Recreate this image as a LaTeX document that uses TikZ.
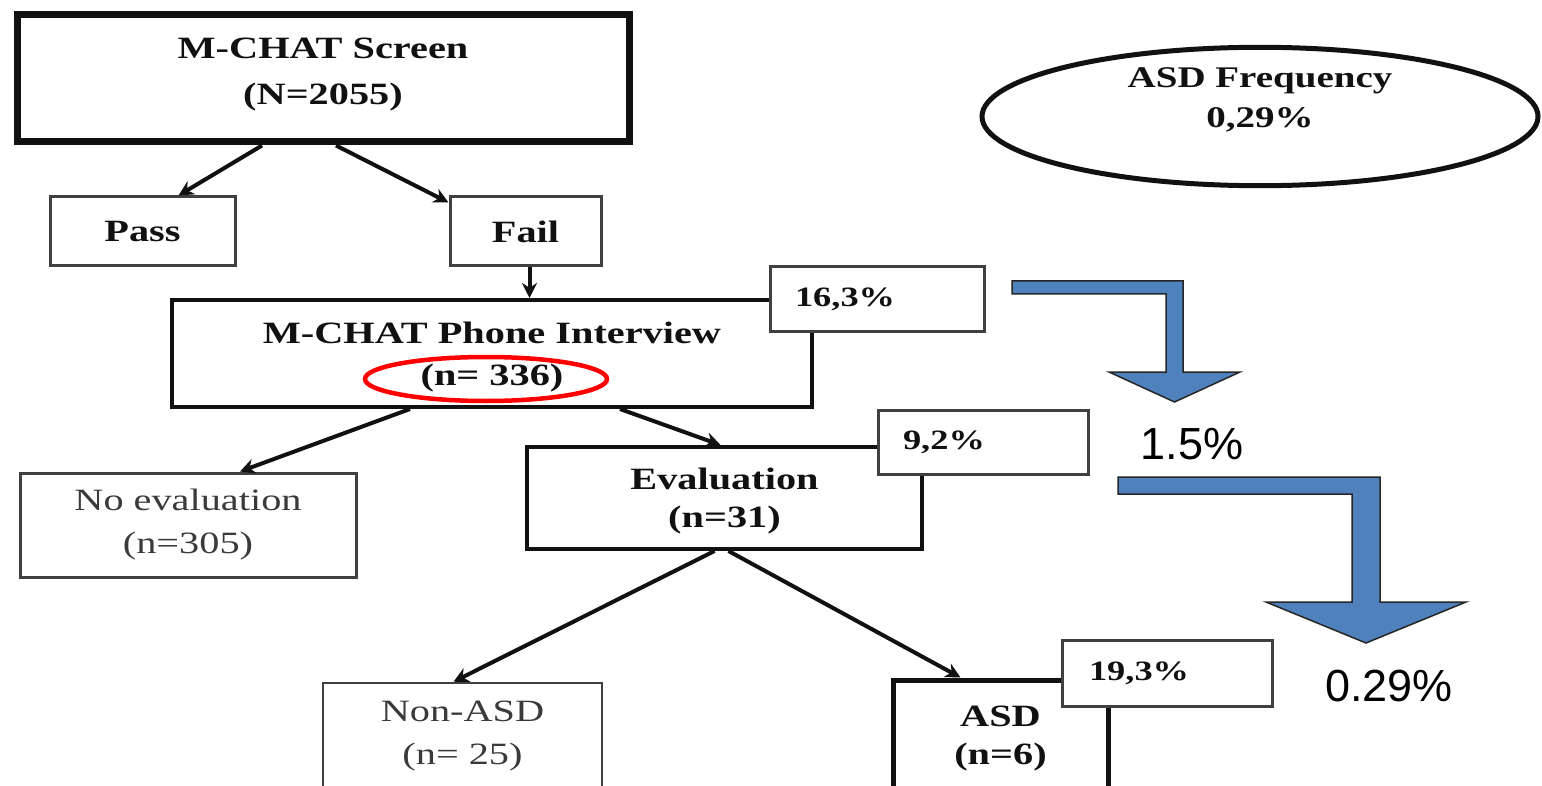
\documentclass[tikz,border=0pt]{standalone}
\usepackage{fontspec}
\setmainfont{Liberation Serif}
\newfontfamily\scanfont[FakeStretch=1.3]{Liberation Serif}
\newfontfamily\plainsans{Liberation Sans}
\usetikzlibrary{shapes.geometric,arrows.meta}
\definecolor{arrowblue}{HTML}{4F81BD}
\definecolor{ink}{HTML}{111111}
\definecolor{softink}{HTML}{3A3A3A}
\definecolor{frame}{HTML}{404040}

\begin{document}
\begin{tikzpicture}[x=1pt,y=-1pt,
  box/.style={draw=ink, fill=white, rectangle, inner sep=0pt, align=center,
    font=\scanfont\bfseries\fontsize{31}{42}\selectfont, text=ink, line width=4pt},
  thinbox/.style={box, draw=frame, line width=3pt},
  lightbox/.style={box, draw=frame, line width=3pt,
    font=\scanfont\fontsize{31}{43}\selectfont, text=softink},
  pct/.style={draw=frame, fill=white, rectangle, line width=3pt, inner xsep=25pt,
    inner ysep=0pt, align=left, font=\scanfont\bfseries\fontsize{28}{32}\selectfont, text=ink},
  link/.style={draw=ink, line width=4pt, -{Stealth[length=15pt,width=15pt]}},
  bigarrow/.style={fill=arrowblue, draw=black!85, line width=1.5pt, line join=miter},
  result/.style={font=\plainsans\fontsize{45}{50}\selectfont, text=black, inner sep=0pt}
]
\useasboundingbox (0,0) rectangle (1542,786);
\clip (0,0) rectangle (1542,786);
\fill[white] (0,0) rectangle (1542,786);

% screening tree
\node[box, line width=7pt, minimum width=612pt, minimum height=127pt, text depth=14pt,
  font=\scanfont\bfseries\fontsize{31}{46}\selectfont]
  (screen) at (323,78.5) {M-CHAT Screen\\(N=2055)};
\node[thinbox, minimum width=185pt, minimum height=69pt] (pass) at (142.5,231.5) {Pass};
\node[thinbox, minimum width=151pt, minimum height=69pt] (fail) at (525.5,231.5) {Fail};
\node[box, minimum width=640pt, minimum height=107pt, text depth=-6pt] (phone) at (492,353.5)
  {M-CHAT Phone Interview\\(n= 336)};
\node[draw=red, line width=4.5pt, ellipse, minimum width=242pt, minimum height=44pt,
  inner sep=0pt] (ring336) at (486,379) {};
\node[lightbox, minimum width=336pt, minimum height=104pt] (noeval) at (188,525)
  {No evaluation\\(n=305)};
\node[box, minimum width=395pt, minimum height=102pt, text depth=-4pt,
  font=\scanfont\bfseries\fontsize{31}{38}\selectfont] (eval) at (724.5,498)
  {Evaluation\\(n=31)};
\node[lightbox, line width=2.5pt, minimum width=279pt, minimum height=106pt] (nonasd)
  at (462.5,736) {Non-ASD\\(n= 25)};
\node[box, line width=5pt, minimum width=215pt, minimum height=118pt,
  font=\scanfont\bfseries\fontsize{31}{38}\selectfont] (asd) at (1000.5,739)
  {ASD\\(n=6)};

% percentage tags
\node[pct, text width=164pt, minimum height=64pt] (p163) at (877,299) {16,3\%};
\node[pct, text width=160pt, minimum height=64pt] (p92) at (983,442) {9,2\%};
\node[pct, text width=156pt, minimum height=66pt, inner xsep=27pt] (p193) at (1167,673) {19,3\%};

% connectors
\draw[link] ([xshift=-61pt]screen.south) -- ([xshift=36pt]pass.north);
\draw[link] ([xshift=13pt]screen.south) -- ([yshift=-7pt]fail.north west);
\draw[link] ([xshift=4pt]fail.south) -- ([xshift=4pt]fail.south |- phone.north);
\draw[link] ([xshift=-82pt]phone.south) -- ([xshift=52pt]noeval.north);
\draw[link] ([xshift=128pt]phone.south) -- ([xshift=-4pt]eval.north);
\draw[link] ([xshift=-10pt]eval.south) -- ([xshift=-9pt]nonasd.north);
\draw[link] ([xshift=4pt]eval.south) -- ([xshift=-40pt]asd.north);

% overall frequency
\node[draw=ink, line width=5pt, ellipse, minimum width=556pt, minimum height=119pt,
  inner sep=0pt, align=center, font=\scanfont\bfseries\fontsize{30}{40}\selectfont,
  text=ink, text depth=38pt] (freq) at (1260,116.5) {ASD Frequency\\0,29\%};

% step-down arrows with the resulting rates
\draw[bigarrow] (1012,281) -- (1183,281) -- (1183,372) -- (1240,372) -- (1174.5,402)
  -- (1109,372) -- (1166,372) -- (1166,294) -- (1012,294) -- cycle;
\node[result] (r15) at (1192,444) {1.5\%};
\draw[bigarrow] (1118,477) -- (1380,477) -- (1380,602) -- (1466,602) -- (1366,643)
  -- (1266,602) -- (1352,602) -- (1352,494) -- (1118,494) -- cycle;
\node[result] (r029) at (1389,686) {0.29\%};
\end{tikzpicture}
\end{document}
